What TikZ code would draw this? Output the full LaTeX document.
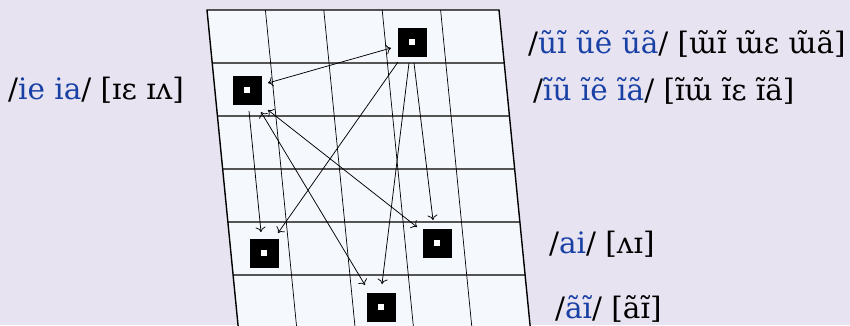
\documentclass[tikz,border=0pt]{standalone}
\usepackage{fontspec}
\setmainfont{DejaVu Serif}
\usetikzlibrary{arrows.meta,calc}
\definecolor{bgcol}{RGB}{231,227,241}
\definecolor{gridfill}{RGB}{245,248,252}
\definecolor{ipablue}{RGB}{25,65,165}
\definecolor{hlinecol}{RGB}{85,85,85}
\tikzset{
  vbox/.style={fill=black, draw=none, minimum size=29pt, inner sep=0pt, outer sep=0pt,
    path picture={\fill[white] ($(path picture bounding box.center)+(-3,-3)$) rectangle ++(6,6);}},
  lbl/.style={anchor=base west, inner sep=0pt, font=\fontsize{29.5}{34}\selectfont},
  conn/.style={line width=0.75pt, >={To[length=5pt,width=10pt]}},
  edgeline/.style={line width=1.4pt, black},
  innerv/.style={line width=0.7pt, black},
  innerh/.style={line width=1.1pt, hlinecol}
}
\newcommand{\ib}[1]{\textcolor{ipablue}{#1}}
\begin{document}
\begin{tikzpicture}[x=1pt,y=-1pt]
\fill[bgcol] (0,0) rectangle (850,325);
\useasboundingbox (0,0) rectangle (850,325);
\begin{scope}
\clip (0,0) rectangle (850,325);
\fill[gridfill] (207,10) -- (499,10) -- (531.5,340) -- (239.5,340) -- cycle;
\foreach \yy in {63,116,169,222,275} {
  \pgfmathsetmacro{\xl}{207+0.0984*(\yy-10)}
  \pgfmathsetmacro{\xr}{499+0.0984*(\yy-10)}
  \draw[innerh] (\xl,\yy) -- (\xr,\yy);
}
\foreach \i in {1,2,3,4} {
  \pgfmathsetmacro{\xt}{207+58.4*\i}
  \pgfmathsetmacro{\xb}{207+58.4*\i+32.5}
  \draw[innerv] (\xt,10) -- (\xb,340);
}
\draw[edgeline] (239.5,340) -- (207,10) -- (499,10) -- (531.5,340);
\end{scope}

\node[vbox] (b1) at (412,42) {};
\node[vbox] (b2) at (247,90) {};
\node[vbox] (b3) at (264,253) {};
\node[vbox] (b4) at (437,243) {};
\node[vbox] (b5) at (381,307) {};

\draw[conn,<->] ($(b2)+(21,-7)$) -- ($(b1)+(-21,6)$);
\draw[conn,->] ($(b1)+(-14,20)$) -- ($(b3)+(14,-20)$);
\draw[conn,->] ($(b1)+(-3,21)$) -- ($(b5)+(1,-23)$);
\draw[conn,->] ($(b1)+(2,21)$) -- ($(b4)+(-4,-23)$);
\draw[conn,->] ($(b2)+(2,21)$) -- ($(b3)+(-3,-21)$);
\draw[conn,<->] ($(b2)+(14,22)$) -- ($(b5)+(-16,-22)$);
\draw[conn,<->] ($(b2)+(21,20)$) -- ($(b4)+(-20,-16)$);

\node[lbl] (t1) at (8,99) {/\ib{ie ia}/ [ɪɛ ɪʌ]};
\node[lbl] (t2) at (528,53) {/\ib{ũĩ ũẽ ũã}/ [ɯ̃ɪ̃ ɯ̃ɛ ɯ̃ã]};
\node[lbl] (t3) at (533,100) {/\ib{ĩũ ĩẽ ĩã}/ [ɪ̃ɯ̃ ɪ̃ɛ ɪ̃ã]};
\node[lbl] (t4) at (549,253) {/\ib{ai}/ [ʌɪ]};
\node[lbl] (t5) at (555,318) {/\ib{ãĩ}/ [ãɪ̃]};
\end{tikzpicture}
\end{document}
